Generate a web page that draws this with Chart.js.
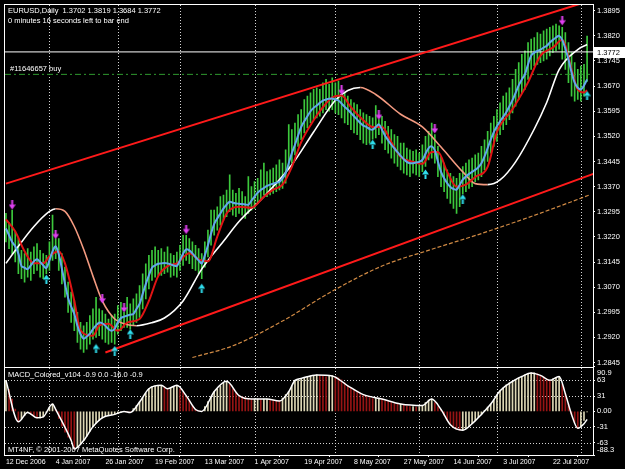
<!DOCTYPE html>
<html>
<head>
<meta charset="utf-8">
<script src="https://cdn.jsdelivr.net/npm/chart.js@4.4.1/dist/chart.umd.min.js"></script>
<style>
html, body { margin: 0; padding: 0; background: #000; }
#graph { display: block; }
</style>
</head>
<body>
<canvas id="graph" width="625" height="469"></canvas>
<script>
// header values shown by the terminal
const symbolName = 'EURUSD,Daily';
const lastBar = [1.3702, 1.3819, 1.3684, 1.3772]; // open high low close
const buyOrderPrice = 1.3705;
const buyOrderLabel = '#11646657 buy';
const macdHeader = [-0.9, 0.0, -16.0, -0.9];

// x axis: bar index of each date label and of each month start
const dateLabels = ['12 Dec 2006', '4 Jan 2007', '26 Jan 2007', '19 Feb 2007', '13 Mar 2007', '1 Apr 2007',
    '19 Apr 2007', '8 May 2007', '27 May 2007', '14 Jun 2007', '3 Jul 2007', '22 Jul 2007'];
const dateLabelBars = [0, 16, 32, 48, 64, 80, 96, 112, 128, 144, 160, 176];
const monthStarts = [14, 36, 56, 80, 106, 133, 158, 185];

const priceTicks = [1.3895, 1.3820, 1.3745, 1.3670, 1.3595, 1.3520, 1.3445, 1.3370, 1.3295,
    1.3220, 1.3145, 1.3070, 1.2995, 1.2920, 1.2845];
const macdTicks = [90.9, 63, 31, 0, -31, -63, -88.3];
const macdTickLabels = ['90.9', '63', '31', '0.00', '-31', '-63', '-88.3'];
const macdLevels = [63, 31, -31, -63];

// daily bars (high / low)
const barHigh = [
    1.3290,1.3262,1.3300,1.3235,1.3215,1.3180,1.3170,1.3185,1.3175,1.3190,
    1.3200,1.3180,1.3170,1.3165,1.3205,1.3285,1.3215,1.3215,1.3170,1.3130,
    1.3085,1.3055,1.3030,1.2995,1.2965,1.2955,1.2965,1.2985,1.3005,1.3040,
    1.3005,1.3000,1.2990,1.2975,1.2985,1.2990,1.3015,1.3025,1.2995,1.3040,
    1.3020,1.3035,1.3050,1.3075,1.3110,1.3140,1.3165,1.3180,1.3190,1.3180,
    1.3185,1.3175,1.3190,1.3170,1.3165,1.3175,1.3195,1.3225,1.3225,1.3215,
    1.3205,1.3195,1.3185,1.3170,1.3205,1.3240,1.3300,1.3300,1.3310,1.3340,
    1.3345,1.3360,1.3405,1.3360,1.3350,1.3365,1.3355,1.3340,1.3400,1.3370,
    1.3385,1.3395,1.3420,1.3440,1.3415,1.3420,1.3425,1.3435,1.3450,1.3440,
    1.3480,1.3555,1.3540,1.3560,1.3585,1.3600,1.3630,1.3640,1.3650,1.3660,
    1.3665,1.3660,1.3680,1.3690,1.3675,1.3695,1.3680,1.3685,1.3645,1.3650,
    1.3640,1.3630,1.3620,1.3615,1.3600,1.3590,1.3585,1.3580,1.3575,1.3612,
    1.3570,1.3580,1.3565,1.3550,1.3540,1.3525,1.3520,1.3500,1.3500,1.3485,
    1.3480,1.3475,1.3480,1.3470,1.3495,1.3520,1.3535,1.3560,1.3525,1.3490,
    1.3460,1.3440,1.3420,1.3410,1.3400,1.3395,1.3410,1.3430,1.3440,1.3450,
    1.3455,1.3465,1.3470,1.3490,1.3510,1.3535,1.3560,1.3580,1.3600,1.3620,
    1.3640,1.3650,1.3665,1.3690,1.3720,1.3740,1.3765,1.3775,1.3800,1.3810,
    1.3815,1.3830,1.3825,1.3835,1.3840,1.3845,1.3850,1.3855,1.3850,1.3845,
    1.3830,1.3800,1.3770,1.3740,1.3720,1.3730,1.3735,1.3819
];
const barLow = [
    1.3205,1.3185,1.3170,1.3145,1.3110,1.3095,1.3085,1.3100,1.3090,1.3110,
    1.3120,1.3100,1.3095,1.3110,1.3120,1.3150,1.3155,1.3120,1.3080,1.3040,
    1.2995,1.2965,1.2940,1.2905,1.2885,1.2875,1.2885,1.2900,1.2915,1.2920,
    1.2925,1.2915,1.2905,1.2900,1.2905,1.2900,1.2930,1.2940,1.2950,1.2950,
    1.2945,1.2955,1.2965,1.2980,1.3005,1.3035,1.3065,1.3090,1.3100,1.3105,
    1.3105,1.3110,1.3115,1.3100,1.3105,1.3100,1.3120,1.3135,1.3150,1.3140,
    1.3125,1.3120,1.3110,1.3095,1.3130,1.3160,1.3195,1.3225,1.3240,1.3255,
    1.3270,1.3280,1.3295,1.3285,1.3280,1.3290,1.3285,1.3275,1.3290,1.3300,
    1.3305,1.3320,1.3330,1.3345,1.3340,1.3345,1.3350,1.3355,1.3360,1.3365,
    1.3380,1.3420,1.3440,1.3465,1.3490,1.3510,1.3530,1.3545,1.3560,1.3570,
    1.3575,1.3580,1.3590,1.3600,1.3595,1.3600,1.3590,1.3585,1.3575,1.3560,
    1.3555,1.3540,1.3530,1.3525,1.3510,1.3500,1.3495,1.3500,1.3512,1.3515,
    1.3525,1.3500,1.3480,1.3470,1.3455,1.3440,1.3430,1.3420,1.3410,1.3405,
    1.3400,1.3410,1.3405,1.3400,1.3415,1.3430,1.3450,1.3455,1.3440,1.3400,
    1.3370,1.3355,1.3335,1.3320,1.3305,1.3290,1.3310,1.3348,1.3355,1.3365,
    1.3370,1.3385,1.3390,1.3400,1.3420,1.3445,1.3470,1.3490,1.3505,1.3525,
    1.3540,1.3555,1.3570,1.3590,1.3610,1.3630,1.3650,1.3660,1.3690,1.3720,
    1.3730,1.3735,1.3740,1.3745,1.3750,1.3760,1.3770,1.3775,1.3780,1.3750,
    1.3720,1.3680,1.3640,1.3625,1.3630,1.3625,1.3640,1.3684
];

// fast moving average (blue), one value per bar
const fastMa = [
    1.3245,1.3225,1.3205,1.3192,1.3170,1.3133,1.3128,1.3124,1.3135,1.3147,
    1.3153,1.3145,1.3135,1.3127,1.3150,1.3177,1.3192,1.3168,1.3125,1.3080,
    1.3038,1.3012,1.2990,1.2955,1.2930,1.2916,1.2923,1.2931,1.2945,1.2956,
    1.2964,1.2962,1.2955,1.2945,1.2940,1.2946,1.2965,1.2978,1.2982,1.2985,
    1.2988,1.2990,1.3005,1.3020,1.3050,1.3079,1.3105,1.3128,1.3135,1.3140,
    1.3141,1.3142,1.3141,1.3138,1.3135,1.3133,1.3150,1.3170,1.3183,1.3180,
    1.3171,1.3160,1.3150,1.3141,1.3165,1.3195,1.3230,1.3258,1.3275,1.3290,
    1.3305,1.3316,1.3325,1.3322,1.3320,1.3319,1.3318,1.3317,1.3316,1.3328,
    1.3340,1.3352,1.3360,1.3366,1.3372,1.3376,1.3379,1.3382,1.3384,1.3395,
    1.3410,1.3440,1.3470,1.3495,1.3522,1.3548,1.3565,1.3580,1.3595,1.3605,
    1.3612,1.3620,1.3627,1.3630,1.3632,1.3633,1.3630,1.3627,1.3618,1.3608,
    1.3600,1.3590,1.3580,1.3570,1.3560,1.3552,1.3548,1.3542,1.3540,1.3548,
    1.3556,1.3540,1.3522,1.3508,1.3495,1.3484,1.3473,1.3462,1.3452,1.3444,
    1.3440,1.3440,1.3442,1.3444,1.3450,1.3468,1.3485,1.3490,1.3478,1.3445,
    1.3414,1.3395,1.3380,1.3369,1.3363,1.3361,1.3375,1.3391,1.3400,1.3408,
    1.3414,1.3420,1.3428,1.3440,1.3460,1.3485,1.3510,1.3533,1.3550,1.3565,
    1.3578,1.3592,1.3610,1.3628,1.3650,1.3672,1.3690,1.3705,1.3735,1.3761,
    1.3770,1.3775,1.3779,1.3785,1.3790,1.3800,1.3808,1.3815,1.3820,1.3808,
    1.3782,1.3750,1.3711,1.3680,1.3665,1.3660,1.3672,1.3690
];

// slower averages, read as [bar, price]
const slowMa = [[0,1.3272],[3,1.3236],[6,1.3177],[9,1.3141],[12,1.3141],[14,1.3162],[17,1.3177],[19,1.3141],
    [22,1.3029],[24,1.2940],[28,1.2925],[30,1.2955],[33,1.2961],[36,1.2940],[39,1.2964],[43,1.2975],
    [46,1.3029],[49,1.3103],[52,1.3133],[55,1.3141],[59,1.3171],[62,1.3153],[65,1.3147],[68,1.3221],
    [71,1.3290],[75,1.3310],[79,1.3307],[83,1.3340],[86,1.3361],[89,1.3376],[92,1.3429],[95,1.3503],
    [99,1.3568],[102,1.3607],[105,1.3636],[108,1.3642],[111,1.3607],[115,1.3568],[118,1.3548],[121,1.3548],
    [124,1.3503],[127,1.3459],[131,1.3444],[134,1.3438],[137,1.3473],[139,1.3473],[142,1.3414],[145,1.3370],
    [148,1.3376],[151,1.3399],[155,1.3429],[158,1.3533],[163,1.3601],[168,1.3681],[172,1.3761],[176,1.3785],
    [179,1.3808],[180,1.3791],[182,1.3719],[184,1.3660],[186,1.3651],[187,1.3657]];
const trendMa = [[0,1.3141],[4,1.3192],[9,1.3251],[14,1.3296],[16,1.3304],[19,1.3296],[22,1.3251],[25,1.3183],
    [28,1.3103],[31,1.3029],[35,1.2975],[38,1.2961],[42,1.2955],[47,1.2964],[51,1.2978],[57,1.3029],
    [63,1.3124],[70,1.3207],[75,1.3266],[83,1.3340],[92,1.3435],[99,1.3533],[106,1.3628],[110,1.3657],
    [114,1.3666],[119,1.3645],[127,1.3586],[134,1.3548],[140,1.3488],[147,1.3414],[151,1.3379],[155,1.3376],
    [159,1.3390],[164,1.3444],[170,1.3542],[174,1.3621],[178,1.3719],[184,1.3779],[187,1.3794]];
const longMa = [[60,1.2860],[73,1.2895],[89,1.2969],[105,1.3058],[121,1.3133],[137,1.3183],[153,1.3230],
    [169,1.3281],[182,1.3325],[188,1.3346]];

// trend lines
const upperTrend = [[0,1.3379],[188,1.3925]];
const lowerTrend = [[32,1.2875],[189,1.3408]];

// signal arrows [bar, price]
const sellArrows = [[2,1.3315],[16,1.3227],[31,1.3035],[38,1.3008],[58,1.3242],[108,1.3657],[120,1.3583],[138,1.3542],[179,1.3865]];
const buyArrows = [[13,1.3094],[29,1.2887],[35,1.2881],[40,1.2931],[63,1.3067],[118,1.3497],[135,1.3408],[147,1.3334],[187,1.3642]];

// MACD histogram, one value per bar, and its line
const macdHist = [
    63,45,25,5,-21,-15,-8,-2,-6,-10,-13,-13,-11,-2,8,15,4,-14,-30,-42,
    -52,-59,-76,-72,-66,-59,-50,-40,-31,-24,-18,-13,-10,-8,-7,-6,-4,-2,0,-1,
    -2,6,12,19,28,37,46,50,52,53,53,50,46,48,51,53,46,39,32,22,
    12,4,1,0,10,20,30,40,46,52,57,61,55,46,38,32,30,28,26,25,
    25,25,24,25,25,24,23,22,21,27,34,40,52,63,65,67,68,70,72,73,
    74,73,71,70,71,72,70,68,64,58,52,48,44,40,37,34,31,28,26,26,
    27,25,22,20,18,16,15,15,13,11,10,10,9,10,12,18,23,25,18,10,
    4,-8,-18,-27,-33,-37,-38,-38,-35,-31,-25,-19,-12,-6,2,9,15,24,33,42,
    48,54,58,61,65,68,71,74,76,78,78,76,73,70,66,63,66,69,71,55,
    36,15,-6,-22,-34,-30,-18,-1
];
const macdLine = [[0,63],[4,-21],[7,-2],[10,-13],[12,-11],[15,15],[16,4],[21,-59],[22,-76],[25,-59],[28,-31],
    [31,-13],[35,-6],[38,0],[40,-2],[43,19],[46,46],[50,53],[52,46],[55,53],[58,32],[61,4],[63,0],[67,40],
    [71,61],[75,32],[79,25],[84,25],[88,21],[91,40],[93,63],[95,67],[100,74],[105,72],[110,52],[115,34],
    [121,25],[127,15],[134,12],[137,25],[140,4],[143,-27],[147,-38],[150,-25],[153,-6],[156,15],[159,42],
    [163,61],[166,71],[169,78],[172,73],[175,63],[178,71],[180,36],[182,-6],[184,-34],[186,-25],[187,-16]];

const xMin = -0.3, xMax = 188.9;
const priceMin = 1.2833, priceMax = 1.3912;
const macdMin = -88.3, macdMax = 90.9;

function pts(list) { return list.map(p => ({x: p[0], y: p[1]})); }

function arrowIcon(color, down) {
    const c = document.createElement('canvas');
    c.width = 7; c.height = 10;
    const g = c.getContext('2d');
    g.fillStyle = color;
    g.beginPath();
    if (down) {
        g.rect(2.5, 0, 2, 5);
        g.moveTo(0, 4.5); g.lineTo(7, 4.5); g.lineTo(3.5, 9.5);
    } else {
        g.rect(2.5, 5, 2, 5);
        g.moveTo(0, 5.5); g.lineTo(7, 5.5); g.lineTo(3.5, 0.5);
    }
    g.fill();
    return c;
}

// stop the axes from pushing the plot inward for their end labels
function noEdgePadding(s) {
    s.paddingTop = 0; s.paddingBottom = 0; s.paddingLeft = 0; s.paddingRight = 0;
}

Chart.defaults.font.family = "'Liberation Sans', Arial, sans-serif";
Chart.defaults.font.size = 7.5;
Chart.defaults.color = '#ffffff';

const mt4Decor = {
    id: 'mt4Decor',
    beforeDatasetsDraw(chart) {
        const {ctx, chartArea: a, scales} = chart;
        ctx.save();
        ctx.strokeStyle = '#d4d4d4';
        ctx.lineWidth = 1;
        ctx.setLineDash([1, 2]);
        monthStarts.forEach(m => {
            const px = Math.round(scales.x.getPixelForValue(m)) + 0.5;
            ctx.beginPath(); ctx.moveTo(px, a.top); ctx.lineTo(px, a.bottom); ctx.stroke();
        });
        macdLevels.forEach(v => {
            const py = Math.round(scales.y2.getPixelForValue(v)) + 0.5;
            ctx.beginPath(); ctx.moveTo(a.left, py); ctx.lineTo(a.right, py); ctx.stroke();
        });
        ctx.restore();
    },
    afterDraw(chart) {
        const {ctx, chartArea: a, scales} = chart;
        const y2 = scales.y2;
        ctx.save();
        ctx.strokeStyle = '#ffffff';
        ctx.lineWidth = 1;
        ctx.strokeRect(a.left - 0.5, a.top - 0.5, a.right - a.left + 1, a.bottom - a.top + 1);
        const sep = Math.round(scales.y.bottom) + 0.5;
        ctx.beginPath(); ctx.moveTo(a.left, sep); ctx.lineTo(a.right, sep); ctx.stroke();

        ctx.fillStyle = '#ffffff';
        ctx.font = "7.5px 'Liberation Sans', Arial, sans-serif";
        ctx.textBaseline = 'middle';
        ctx.textAlign = 'left';
        ctx.fillText(symbolName + '  ' + lastBar.map(v => v.toFixed(4)).join(' '), a.left + 3, a.top + 6);
        ctx.fillText('0 minutes 16 seconds left to bar end', a.left + 3, a.top + 16);
        ctx.fillText(buyOrderLabel, a.left + 5, scales.y.getPixelForValue(buyOrderPrice) - 5);
        ctx.fillText('MACD_Colored_v104 ' + macdHeader.map(v => v.toFixed(1)).join(' '), a.left + 3, y2.top + 8);
        ctx.fillText('MT4NF, \u00a9 2001-2007 MetaQuotes Software Corp.', a.left + 3, a.bottom - 5);

        // MACD scale labels, the end ones kept inside the pane like the terminal does
        macdTicks.forEach((v, i) => {
            const py = Math.min(Math.max(y2.getPixelForValue(v), y2.top + 6), y2.bottom - 5);
            ctx.fillText(macdTickLabels[i], a.right + 4, py);
        });

        // current price marker on the price axis
        const py = Math.round(scales.y.getPixelForValue(lastBar[3]));
        ctx.fillRect(a.right + 1, py - 5, chart.width - a.right - 1, 11);
        ctx.fillStyle = '#000000';
        ctx.fillText(lastBar[3].toFixed(4), a.right + 4, py + 0.5);
        ctx.restore();
    }
};

const datasets = [
    {type: 'line', data: pts(sellArrows), yAxisID: 'y', showLine: false, pointStyle: arrowIcon('#e040f0', true), pointRadius: 4},
    {type: 'line', data: pts(buyArrows), yAxisID: 'y', showLine: false, pointStyle: arrowIcon('#30e0f0', false), pointRadius: 4},
    {type: 'line', data: fastMa.map((v, i) => ({x: i, y: v})), yAxisID: 'y', borderColor: '#62a8ec', borderWidth: 2, tension: 0.35},
    {type: 'line', data: pts(slowMa), yAxisID: 'y', borderColor: '#e01414', borderWidth: 2, cubicInterpolationMode: 'monotone'},
    {type: 'line', data: pts(trendMa), yAxisID: 'y', borderWidth: 1.6, cubicInterpolationMode: 'monotone',
        segment: {borderColor: c => c.p1.parsed.y >= c.p0.parsed.y ? '#ffffff' : '#f39a80'}},
    {type: 'line', data: pts(upperTrend), yAxisID: 'y', borderColor: '#ff1a1a', borderWidth: 2},
    {type: 'line', data: pts(lowerTrend), yAxisID: 'y', borderColor: '#ff1a1a', borderWidth: 2},
    {type: 'line', data: [{x: xMin, y: lastBar[3]}, {x: xMax, y: lastBar[3]}], yAxisID: 'y', borderColor: '#ffffff', borderWidth: 1},
    {type: 'line', data: [{x: xMin, y: buyOrderPrice}, {x: xMax, y: buyOrderPrice}], yAxisID: 'y',
        borderColor: '#2f9a2f', borderWidth: 1, borderDash: [6, 3, 2, 3]},
    {type: 'line', data: pts(longMa), yAxisID: 'y', borderColor: '#d08a44', borderWidth: 1.2, borderDash: [4, 2], cubicInterpolationMode: 'monotone'},
    {type: 'bar', data: barHigh.map((h, i) => ({x: i, y: [barLow[i], h]})), yAxisID: 'y',
        backgroundColor: '#3cc83c', barThickness: 1, grouped: false},
    {type: 'line', data: pts(macdLine), yAxisID: 'y2', borderColor: '#ffffff', borderWidth: 1.5, cubicInterpolationMode: 'monotone'},
    {type: 'bar', data: macdHist.map((v, i) => ({x: i, y: v})), yAxisID: 'y2', barThickness: 1, grouped: false,
        backgroundColor: c => {
            const i = c.dataIndex;
            const prev = i > 0 ? macdHist[i - 1] : macdHist[i];
            return macdHist[i] >= prev ? '#dcd6b4' : '#961414';
        }}
];

const graph = document.getElementById('graph').getContext('2d');
const displayedGraph = new Chart(graph, {
    type: 'line',
    data: {datasets: datasets},
    options: {
        responsive: false,
        animation: false,
        devicePixelRatio: 1,
        layout: {padding: {left: 2, top: 2, right: 0, bottom: 0}},
        plugins: {legend: {display: false}, tooltip: {enabled: false}},
        elements: {point: {radius: 0}},
        scales: {
            x: {
                type: 'linear', min: xMin, max: xMax, offset: false,
                afterBuildTicks: s => { s.ticks = dateLabelBars.map(v => ({value: v})); },
                afterFit: s => { s.height = 14; noEdgePadding(s); },
                grid: {display: true, drawOnChartArea: false, drawTicks: true, tickLength: 2, color: '#ffffff'},
                border: {display: true, color: '#ffffff'},
                ticks: {align: 'start', autoSkip: false, maxRotation: 0, padding: 1, color: '#ffffff',
                    font: {size: 7}, callback: (v, i) => dateLabels[i]}
            },
            y: {
                type: 'linear', position: 'right', stack: 'panes', stackWeight: 364,
                min: priceMin, max: priceMax,
                afterBuildTicks: s => { s.ticks = priceTicks.map(v => ({value: v})); },
                afterFit: s => { s.width = 32; noEdgePadding(s); },
                grid: {display: true, drawOnChartArea: false, drawTicks: true, tickLength: 2, color: '#ffffff'},
                border: {display: true, color: '#ffffff'},
                ticks: {autoSkip: false, padding: 2, color: '#ffffff', callback: v => v.toFixed(4)}
            },
            y2: {
                type: 'linear', position: 'right', stack: 'panes', stackWeight: 89,
                min: macdMin, max: macdMax,
                afterBuildTicks: s => { s.ticks = macdTicks.map(v => ({value: v})); },
                afterFit: s => { s.width = 32; noEdgePadding(s); },
                grid: {display: true, drawOnChartArea: false, drawTicks: true, tickLength: 2, color: '#ffffff'},
                border: {display: true, color: '#ffffff'},
                ticks: {display: false, autoSkip: false}
            }
        }
    },
    plugins: [mt4Decor]
});
</script>
</body>
</html>
